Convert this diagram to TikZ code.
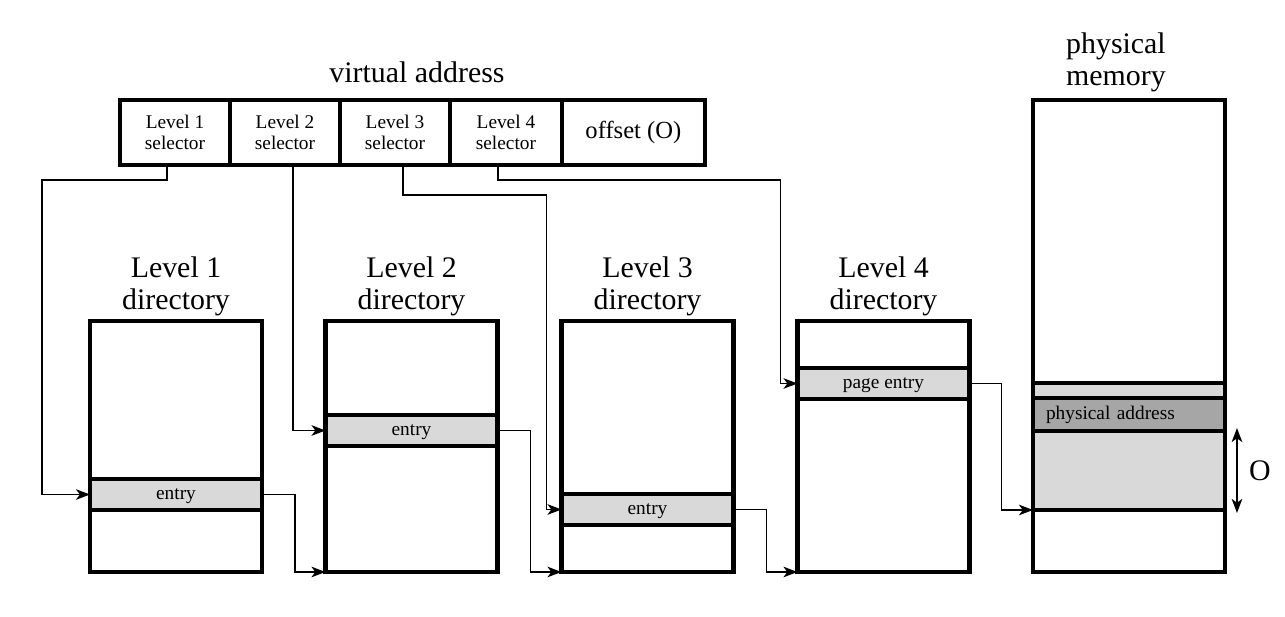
\documentclass[tikz,border=0pt]{standalone}
\usepackage{fontspec}
\setmainfont{Liberation Serif}
\usetikzlibrary{positioning,calc,arrows.meta}
\tikzset{
  >={Stealth[length=8pt,width=6pt,inset=2.2pt]},
  heavy/.style={line width=2.4pt},
  cell/.style={draw, heavy, outer sep=0pt, minimum width=2.2cm, minimum height=1.3cm, align=center, font=\fontsize{11}{12}\selectfont},
  dirbox/.style={draw, heavy, outer sep=0pt, minimum width=3.44cm, minimum height=5.02cm},
  entrybox/.style={draw, heavy, fill=black!15, outer sep=0pt, minimum width=3.44cm, minimum height=0.62cm, text height=1.6ex, text depth=0.3ex, font=\fontsize{11}{13}\selectfont},
  title/.style={align=center, inner sep=0pt, font=\fontsize{17}{18.3}\selectfont},
  link/.style={line width=1.1pt, ->},
}
\begin{document}
\begin{tikzpicture}[x=0.02cm, y=-0.02cm]
  \useasboundingbox (0,0) rectangle (1285,616);
  % virtual address
  \node[cell] (s1) at (175,132.5) {Level 1\\selector};
  \node[cell, right=0pt of s1] (s2) {Level 2\\selector};
  \node[cell, right=0pt of s2] (s3) {Level 3\\selector};
  \node[cell, right=0pt of s3, minimum width=2.24cm] (s4) {Level 4\\selector};
  \node[cell, right=0pt of s4, minimum width=2.86cm, font=\fontsize{14}{15}\selectfont] (off) {offset (O)};
  \node[title] (va) at (417,72) {virtual address};
  % directories
  \node[dirbox] (d1) at (176,446.5) {};
  \node[dirbox] (d2) at (411.5,446.5) {};
  \node[dirbox] (d3) at (647.5,446.5) {};
  \node[dirbox] (d4) at (883.5,446.5) {};
  \node[entrybox] (e1) at (176,494.5) {entry};
  \node[entrybox] (e2) at (411.5,430.5) {entry};
  \node[entrybox] (e3) at (647.5,509.5) {entry};
  \node[entrybox] (e4) at (883.5,383.5) {page entry};
  \node[title, above=0.1cm of d1] (t1) {Level 1\\directory};
  \node[title, above=0.1cm of d2] (t2) {Level 2\\directory};
  \node[title, above=0.1cm of d3] (t3) {Level 3\\directory};
  \node[title, above=0.1cm of d4] (t4) {Level 4\\directory};
  % physical memory
  \node[dirbox, minimum width=3.84cm, minimum height=9.44cm] (pm) at (1129,336) {};
  \node[entrybox, minimum width=3.84cm, minimum height=2.54cm] (page) at (1129,446.5) {};
  \node[entrybox, fill=black!35, minimum width=3.84cm, minimum height=0.66cm, inner xsep=0.26cm, text width=3.32cm, align=left] (paddr) at (1129,414.5) {physical address};
  \node[title] (tp) at (1116,62) {physical\\memory};
  % selectors to directories
  \draw[link] ([xshift=-0.16cm]s1.south) -- ++(0,15) -| ($(e1.west)+(-48,0)$) -- (e1.west);
  \draw[link] ([xshift=0.16cm]s2.south) |- (e2.west);
  \draw[link] ([xshift=0.16cm]s3.south) -- ++(0,30) -| ($(e3.west)+(-15,0)$) -- (e3.west);
  \draw[link] ([xshift=-0.16cm]s4.south) -- ++(0,15) -| ($(e4.west)+(-17,0)$) -- (e4.west);
  % entries to next level
  \draw[link] (e1.east) -- ++(33,0) |- (d2.south west);
  \draw[link] (e2.east) -- ++(33,0) |- (d3.south west);
  \draw[link] (e3.east) -- ++(33,0) |- (d4.south west);
  \draw[link] (e4.east) -- ++(32,0) |- (page.south west);
  % offset
  \draw[line width=1.1pt, <->] ($(paddr.south east)+(12,-3)$) -- node[right=3pt, font=\fontsize{17}{19}\selectfont] {O} ($(page.south east)+(12,3)$);
\end{tikzpicture}
\end{document}
